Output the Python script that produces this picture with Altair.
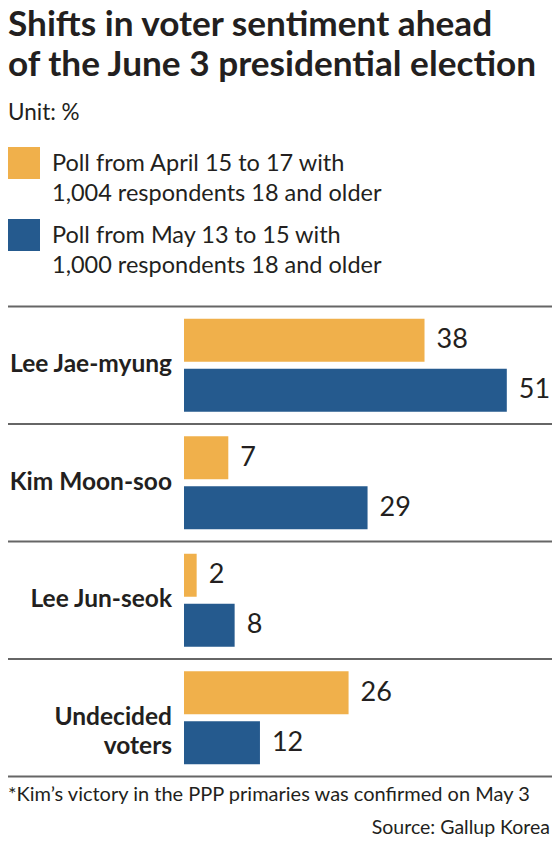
import altair as alt
import pandas as pd

# ---- data ----
candidates = ["Lee Jae-myung", "Kim Moon-soo", "Lee Jun-seok", "Undecided voters"]
candidate_labels = ["Lee Jae-myung", "Kim Moon-soo", "Lee Jun-seok", "Undecided\nvoters"]
april_values = [38, 7, 2, 26]
may_values = [51, 29, 8, 12]
poll_keys = ["April", "May"]
poll_labels = [
    "Poll from April 15 to 17 with\n1,004 respondents 18 and older",
    "Poll from May 13 to 15 with\n1,000 respondents 18 and older",
]
poll_colors = ["#F0B04B", "#255A8E"]

title_lines = ["Shifts in voter sentiment ahead", "of the June 3 presidential election"]
unit_text = "Unit: %"
footnote_text = "*Kim\u2019s victory in the PPP primaries was confirmed on May 3"
source_text = "Source: Gallup Korea"

# ---- tables ----
rows = []
for c, a, m in zip(candidates, april_values, may_values):
    rows.append({"candidate": c, "poll": "April", "value": a})
    rows.append({"candidate": c, "poll": "May", "value": m})
bars_df = pd.DataFrame(rows)
labels_df = pd.DataFrame({"candidate": candidates, "label": candidate_labels})
legend_df = pd.DataFrame({"poll": poll_keys, "label": poll_labels})

W, H = 544, 831
FONT = "Lato"
TXT = "#231F20"

y_scale = alt.Scale(domain=candidates, range=[298.5, 768.5], paddingInner=0, paddingOuter=0)
x_scale = alt.Scale(domain=[0, 58.14], range=[176, 544])
color_scale = alt.Scale(domain=poll_keys, range=poll_colors)
yoff_scale = alt.Scale(domain=poll_keys, paddingInner=0.14, paddingOuter=0.245)

base = alt.Chart(bars_df)

bars = base.mark_bar().encode(
    x=alt.X("value:Q", scale=x_scale, axis=None),
    y=alt.Y("candidate:N", scale=y_scale, axis=None),
    yOffset=alt.YOffset("poll:N", scale=yoff_scale),
    color=alt.Color("poll:N", scale=color_scale, legend=None),
)

values = base.mark_text(align="left", baseline="middle", dx=12, fontSize=27, font=FONT, color=TXT).encode(
    x=alt.X("value:Q", scale=x_scale, axis=None),
    y=alt.Y("candidate:N", scale=y_scale, axis=None),
    yOffset=alt.YOffset("poll:N", scale=yoff_scale),
    text="value:Q",
)

cat_labels = alt.Chart(labels_df).mark_text(
    align="right", baseline="middle", fontSize=24.5, fontWeight="bold", font=FONT,
    color=TXT, lineBreak="\n", lineHeight=29,
).encode(
    x=alt.value(164),
    y=alt.Y("candidate:N", scale=y_scale, axis=None),
    text="label:N",
)

sep_top = alt.Chart(labels_df).mark_rule(color="#666666", strokeWidth=2).encode(
    y=alt.Y("candidate:N", scale=y_scale, axis=None, bandPosition=0),
    x=alt.value(0), x2=alt.value(W),
)
sep_bottom = alt.Chart(labels_df).transform_filter(
    alt.datum.candidate == candidates[-1]
).mark_rule(color="#666666", strokeWidth=2).encode(
    y=alt.Y("candidate:N", scale=y_scale, axis=None, bandPosition=1),
    x=alt.value(0), x2=alt.value(W),
)

# legend (manual)
leg_layers = []
for i, k in enumerate(poll_keys):
    top = 139 + 72 * i
    sub = alt.Chart(legend_df).transform_filter(alt.datum.poll == k)
    leg_layers.append(sub.mark_rect().encode(
        x=alt.value(0), x2=alt.value(32), y=alt.value(top), y2=alt.value(top + 32),
        color=alt.Color("poll:N", scale=color_scale, legend=None),
    ))
    leg_layers.append(sub.mark_text(
        align="left", baseline="alphabetic", fontSize=23.5, font=FONT, color=TXT,
        lineBreak="\n", lineHeight=30,
    ).encode(x=alt.value(44), y=alt.value(top + 24), text="label:N"))

def text_layer(txt, x, y, size, weight="normal", align="left"):
    return alt.Chart(pd.DataFrame({"t": [txt]})).mark_text(
        align=align, baseline="alphabetic", fontSize=size, fontWeight=weight,
        font=FONT, color=TXT,
    ).encode(x=alt.value(x), y=alt.value(y), text="t:N")

title1 = text_layer(title_lines[0], 0, 28, 35.2, "bold")
title2 = text_layer(title_lines[1], 0, 68, 35.2, "bold")
unit = text_layer(unit_text, 0, 112, 22.5)
foot = text_layer(footnote_text, 0, 793, 20)
src = text_layer(source_text, W - 2, 826, 19.5, align="right")

chart = alt.layer(
    sep_top, sep_bottom, bars, values, cat_labels, *leg_layers,
    title1, title2, unit, foot, src,
).properties(
    width=W, height=H, padding=0, autosize=alt.AutoSizeParams(type="none"),
).configure_view(stroke=None)

chart.save("out.html", embed_options={"renderer": "svg", "actions": False})
